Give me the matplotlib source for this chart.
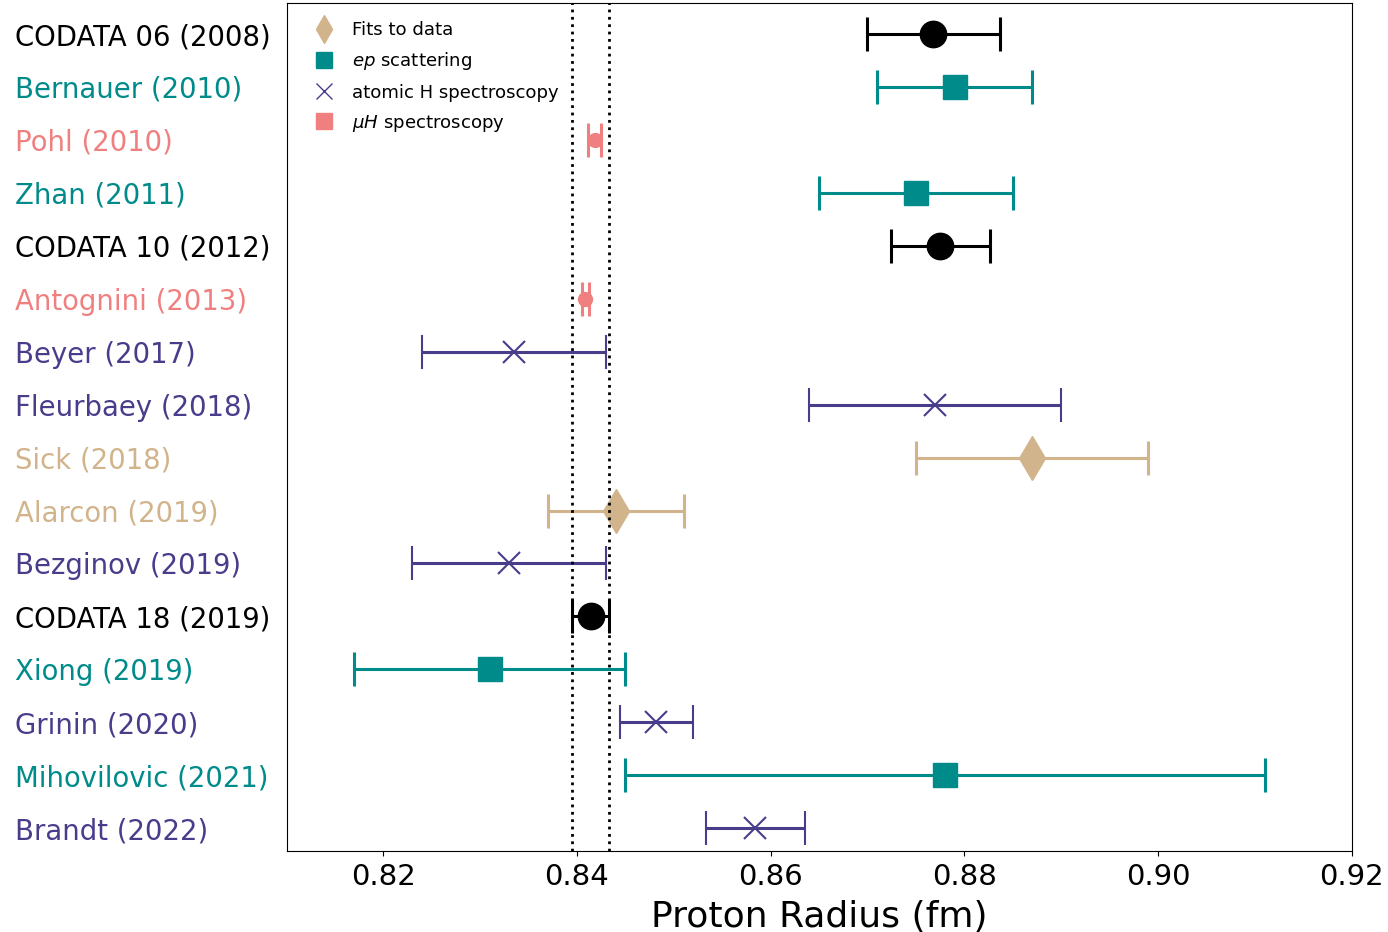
import matplotlib.pyplot as plt
from matplotlib.lines import Line2D

labels = ['CODATA 06 (2008)', 'Bernauer (2010)', 'Pohl (2010)', 'Zhan (2011)',
          'CODATA 10 (2012)', 'Antognini (2013)', 'Beyer (2017)', 'Fleurbaey (2018)',
          'Sick (2018)', 'Alarcon (2019)', 'Bezginov (2019)', 'CODATA 18 (2019)',
          'Xiong (2019)', 'Grinin (2020)', 'Mihovilovic (2021)', 'Brandt (2022)']
radius = [0.8768, 0.879, 0.84184, 0.875, 0.8775, 0.84087, 0.8335, 0.877,
          0.887, 0.844, 0.833, 0.8414, 0.831, 0.8482, 0.878, 0.8584]
error = [0.0069, 0.008, 0.00067, 0.010, 0.0051, 0.00039, 0.0095, 0.013,
         0.012, 0.007, 0.010, 0.0019, 0.014, 0.0038, 0.033, 0.0051]
kind = ['codata', 'ep', 'muH', 'ep', 'codata', 'muH', 'H', 'H',
        'fit', 'fit', 'H', 'codata', 'ep', 'H', 'ep', 'H']

codata18 = 0.8414
codata18_err = 0.0019

styles = {
    'codata': dict(color='black', marker='o', ms=19),
    'ep': dict(color='#008b8b', marker='s', ms=17),
    'muH': dict(color='#f08080', marker='o', ms=10),
    'H': dict(color='#483d8b', marker='x', ms=16, mew=1.5),
    'fit': dict(color='#d2b48c', marker='d', ms=22),
}

fig, ax = plt.subplots(figsize=(13.88, 9.32), dpi=100)
fig.subplots_adjust(left=0.207, right=0.974, top=0.997, bottom=0.087)

for i in range(len(labels)):
    st = styles[kind[i]]
    ax.errorbar(radius[i], i, xerr=error[i], capsize=12, elinewidth=2.2, capthick=2.2,
                linestyle='none', **st)

ax.axvline(codata18 - codata18_err, color='black', linestyle=':', lw=2, zorder=3)
ax.axvline(codata18 + codata18_err, color='black', linestyle=':', lw=2, zorder=3)

# y labels left-aligned at the figure edge, coloured by measurement type
ax.set_yticks(range(len(labels)))
ax.set_yticklabels(labels, fontsize=19.8, ha='left')
for lab, k in zip(ax.get_yticklabels(), kind):
    lab.set_color(styles[k]['color'])
ax.tick_params(axis='y', length=0, pad=196)
ax.tick_params(axis='x', labelsize=21, pad=5)
ax.set_ylim(15.43, -0.59)
ax.set_xlim(0.8101, 0.92)
ax.set_xlabel('Proton Radius (fm)', fontsize=26, labelpad=7)

handles = [
    Line2D([], [], linestyle='none', marker='d', ms=14, color='#d2b48c'),
    Line2D([], [], linestyle='none', marker='s', ms=11, color='#008b8b'),
    Line2D([], [], linestyle='none', marker='x', ms=12, color='#483d8b'),
    Line2D([], [], linestyle='none', marker='s', ms=11, color='#f08080'),
]
ax.legend(handles, ['Fits to data', '$ep$ scattering', 'atomic H spectroscopy',
                    '$\\mu H$ spectroscopy'],
          loc='upper left', frameon=False, fontsize=13.1, borderaxespad=0.6,
          handletextpad=0.55, labelspacing=0.62)

fig.savefig('out.png')
